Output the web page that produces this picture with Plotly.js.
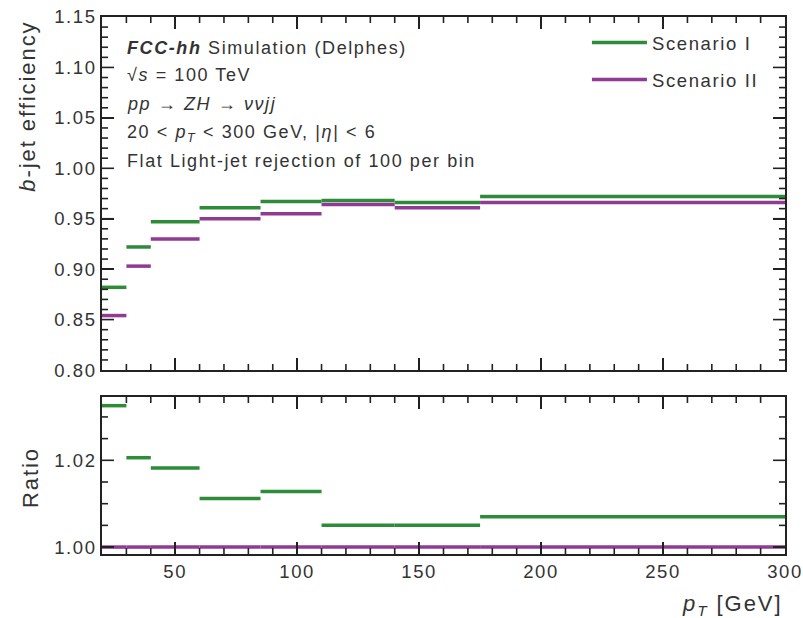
<!DOCTYPE html>
<html>
<head>
<meta charset="utf-8">
<script src="https://cdn.plot.ly/plotly-3.0.1.min.js"></script>
<style>
  html, body { margin: 0; padding: 0; background: #fff; }
  #chart { width: 803px; height: 618px; }
  /* slightly open letter spacing, like the wide-set sans of the figure */
  svg text { letter-spacing: 0.088em; }
</style>
</head>
<body>
<div id="chart"></div>
<script>
// pT bin edges [GeV]
const binEdges = [20, 30, 40, 60, 85, 110, 140, 175, 300];

// b-jet efficiency per pT bin at a flat light-jet rejection of 100
const effScenarioI  = [0.882, 0.922, 0.947, 0.961, 0.967, 0.968, 0.966, 0.972];
const effScenarioII = [0.854, 0.903, 0.930, 0.950, 0.955, 0.964, 0.961, 0.966];

// Ratio to Scenario II per pT bin
const ratioScenarioI  = [1.0326, 1.0206, 1.0182, 1.0112, 1.0128, 1.0050, 1.0050, 1.0070];
const ratioScenarioII = [1, 1, 1, 1, 1, 1, 1, 1];

const seriesNames = ['Scenario I', 'Scenario II'];

// Axis ticks
const xTickVals = [50, 100, 150, 200, 250, 300];
const effTickVals = [0.80, 0.85, 0.90, 0.95, 1.00, 1.05, 1.10, 1.15];
const effTickText = ['0.80', '0.85', '0.90', '0.95', '1.00', '1.05', '1.10', '1.15'];
const ratioTickVals = [1.00, 1.02];
const ratioTickText = ['1.00', '1.02'];

const colorI = '#2e8b38';
const colorII = '#8f3b93';
const FONT = 'Liberation Sans, Arial, Helvetica, sans-serif';
const INK = '#333';
const FRAME = '#222';

// Turn per-bin values into horizontal segments spanning each bin
function binSegments(edges, values) {
  const xs = [], ys = [];
  for (let i = 0; i < values.length; i++) {
    xs.push(edges[i], edges[i + 1], null);
    ys.push(values[i], values[i], null);
  }
  return { x: xs, y: ys };
}

function stepTrace(values, name, color, xaxis, yaxis, showlegend) {
  const s = binSegments(binEdges, values);
  return {
    type: 'scatter', mode: 'lines',
    x: s.x, y: s.y, name: name,
    xaxis: xaxis, yaxis: yaxis,
    line: { color: color, width: 3.5 },
    showlegend: showlegend,
    legendgroup: name,
    hoverinfo: 'skip'
  };
}

const traces = [
  stepTrace(effScenarioI,  seriesNames[0], colorI,  'x2', 'y2', true),
  stepTrace(effScenarioII, seriesNames[1], colorII, 'x2', 'y2', true),
  stepTrace(ratioScenarioII, seriesNames[1], colorII, 'x', 'y', false),
  stepTrace(ratioScenarioI,  seriesNames[0], colorI,  'x', 'y', false)
];

// Panel geometry (paper fractions)
const ratioDomain = [0, 0.2924];
const effDomain = [0.3426, 1];
const xRange = [20, 300];
const effRange = [0.80, 1.15];
const ratioRange = [0.9984, 1.0346];

// Inward tick marks on every side of both panels, drawn as pixel-sized shapes
function steps(lo, hi, step) {
  const out = [];
  for (let k = Math.ceil(lo / step - 1e-9); k * step <= hi + 1e-9; k++) out.push(+(k * step).toFixed(6));
  return out;
}
const MAJOR = 12, MINOR = 6, TICKW = 1.6;
const tickShapes = [];
function xTick(v, len) {
  [ratioDomain, effDomain].forEach(dom => {
    tickShapes.push({ type: 'line', layer: 'above', xref: 'x', yref: 'paper', x0: v, x1: v,
      ysizemode: 'pixel', yanchor: dom[0], y0: 0, y1: len, line: { color: FRAME, width: TICKW } });
    tickShapes.push({ type: 'line', layer: 'above', xref: 'x', yref: 'paper', x0: v, x1: v,
      ysizemode: 'pixel', yanchor: dom[1], y0: 0, y1: -len, line: { color: FRAME, width: TICKW } });
  });
}
function yTick(axis, v, len) {
  tickShapes.push({ type: 'line', layer: 'above', xref: 'paper', yref: axis, y0: v, y1: v,
    xsizemode: 'pixel', xanchor: 0, x0: 0, x1: len, line: { color: FRAME, width: TICKW } });
  tickShapes.push({ type: 'line', layer: 'above', xref: 'paper', yref: axis, y0: v, y1: v,
    xsizemode: 'pixel', xanchor: 1, x0: 0, x1: -len, line: { color: FRAME, width: TICKW } });
}
const inside = (v, r) => v > r[0] + 1e-9 && v < r[1] - 1e-9;
const isMajor = (v, list) => list.some(m => Math.abs(m - v) < 1e-9);

steps(xRange[0], xRange[1], 10).filter(v => inside(v, xRange)).forEach(v =>
  xTick(v, isMajor(v, xTickVals) ? MAJOR : MINOR));
steps(effRange[0], effRange[1], 0.01).filter(v => inside(v, effRange)).forEach(v =>
  yTick('y2', v, isMajor(v, effTickVals) ? MAJOR : MINOR));
steps(ratioRange[0], ratioRange[1], 0.005).filter(v => inside(v, ratioRange)).forEach(v =>
  yTick('y', v, isMajor(v, ratioTickVals) ? MAJOR : MINOR));

const frame = {
  showline: true, linecolor: FRAME, linewidth: 1.6, mirror: 'allticks',
  ticks: 'inside', ticklen: MAJOR, tickwidth: TICKW, tickcolor: FRAME,
  showgrid: false, zeroline: false,
  tickfont: { family: FONT, size: 18.5, color: INK }
};

const layout = {
  width: 803, height: 618,
  margin: { l: 102, r: 18, t: 17, b: 64 },
  paper_bgcolor: '#fff', plot_bgcolor: '#fff',
  font: { family: FONT, color: INK },
  showlegend: true,
  legend: {
    x: 0.71, y: 0.987, xanchor: 'left', yanchor: 'top',
    bgcolor: 'rgba(0,0,0,0)', borderwidth: 0,
    font: { family: FONT, size: 18.5, color: INK },
    itemwidth: 55,
    traceorder: 'grouped', tracegroupgap: 10
  },
  xaxis: Object.assign({}, frame, {
    domain: [0, 1], anchor: 'y', range: xRange,
    tickvals: xTickVals
  }),
  yaxis: Object.assign({}, frame, {
    domain: ratioDomain, anchor: 'x', range: ratioRange,
    tickvals: ratioTickVals, ticktext: ratioTickText
  }),
  xaxis2: Object.assign({}, frame, {
    domain: [0, 1], anchor: 'y2', matches: 'x', range: xRange,
    showticklabels: false, tickvals: xTickVals
  }),
  yaxis2: Object.assign({}, frame, {
    domain: effDomain, anchor: 'x2', range: effRange,
    tickvals: effTickVals, ticktext: effTickText
  }),
  shapes: tickShapes,
  annotations: [
    // axis titles
    { xref: 'paper', yref: 'paper', x: -0.109, y: 0.834, xanchor: 'center', yanchor: 'middle',
      textangle: -90, showarrow: false, text: '<i>b</i>-jet efficiency',
      font: { family: FONT, size: 22, color: INK } },
    { xref: 'paper', yref: 'paper', x: -0.1054, y: 0.1415, xanchor: 'center', yanchor: 'middle',
      textangle: -90, showarrow: false, text: 'Ratio',
      font: { family: FONT, size: 22, color: INK } },
    { xref: 'paper', yref: 'paper', x: 1.0, y: -0.095, xanchor: 'right', yanchor: 'middle',
      showarrow: false, text: '<i>p</i><sub><i>T</i></sub> [GeV]',
      font: { family: FONT, size: 22, color: INK } },
    // plot labels
    { xref: 'paper', yref: 'paper', x: 0.033, y: 0.942, xanchor: 'left', yanchor: 'middle',
      showarrow: false, text: '<b><i>FCC-hh</i></b> Simulation (Delphes)',
      font: { family: FONT, size: 18, color: INK } },
    { xref: 'paper', yref: 'paper', x: 0.033, y: 0.892, xanchor: 'left', yanchor: 'middle',
      showarrow: false, text: '√<i>s</i> = 100 TeV',
      font: { family: FONT, size: 18, color: INK } },
    { xref: 'paper', yref: 'paper', x: 0.033, y: 0.838, xanchor: 'left', yanchor: 'middle',
      showarrow: false, text: '<i>pp</i> → <i>ZH</i> → <i>ννjj</i>',
      font: { family: FONT, size: 18, color: INK } },
    { xref: 'paper', yref: 'paper', x: 0.033, y: 0.783, xanchor: 'left', yanchor: 'middle',
      showarrow: false, text: '20 &lt; <i>p</i><sub><i>T</i></sub> &lt; 300 GeV, |<i>η</i>| &lt; 6',
      font: { family: FONT, size: 18, color: INK } },
    { xref: 'paper', yref: 'paper', x: 0.033, y: 0.731, xanchor: 'left', yanchor: 'middle',
      showarrow: false, text: 'Flat Light-jet rejection of 100 per bin',
      font: { family: FONT, size: 18, color: INK } }
  ]
};

Plotly.newPlot('chart', traces, layout, { staticPlot: true });
</script>
</body>
</html>
